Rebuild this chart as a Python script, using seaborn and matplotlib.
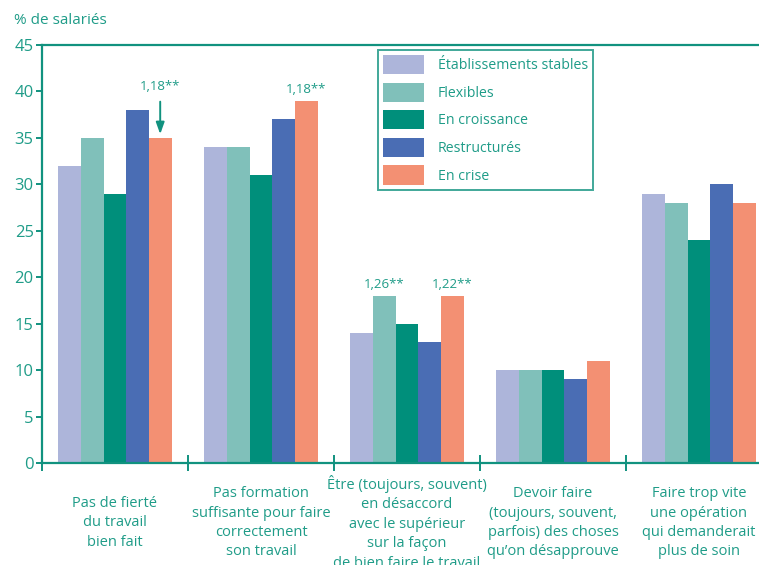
import matplotlib
matplotlib.use("Agg")
import matplotlib.pyplot as plt
import seaborn as sns
import pandas as pd

# data
categories = [
    "Pas de fierté\ndu travail\nbien fait",
    "Pas formation\nsuffisante pour faire\ncorrectement\nson travail",
    "Être (toujours, souvent)\nen désaccord\navec le supérieur\nsur la façon\nde bien faire le travail",
    "Devoir faire\n(toujours, souvent,\nparfois) des choses\nqu’on désapprouve",
    "Faire trop vite\nune opération\nqui demanderait\nplus de soin",
]
series = ["Établissements stables", "Flexibles", "En croissance", "Restructurés", "En crise"]
stables = [32, 34, 14, 10, 29]
flexibles = [35, 34, 18, 10, 28]
croissance = [29, 31, 15, 10, 24]
restructures = [38, 37, 13, 9, 30]
crise = [35, 39, 18, 11, 28]
colors = ["#adb5da", "#80c0ba", "#008f7b", "#4a6db4", "#f39073"]

# odds ratios written above some bars: (category index, series index, label, arrow)
notes = [(0, 4, "1,18**", True), (1, 4, "1,18**", False),
         (2, 1, "1,26**", False), (2, 4, "1,22**", False)]

teal = "#1f9c88"
line = "#11927f"

all_vals = [stables, flexibles, croissance, restructures, crise]
rows = []
for name, vals in zip(series, all_vals):
    for cat, v in zip(categories, vals):
        rows.append({"cat": cat, "serie": name, "val": v})
df = pd.DataFrame(rows)

sns.set_style("white")
plt.rcParams["font.family"] = ["Open Sans", "DejaVu Sans"]

fig = plt.figure(figsize=(7.59, 5.65), dpi=100)
ax = fig.add_axes([42 / 759, 1 - 463 / 565, 1 - 42 / 759, (463 - 45) / 565])

bw = 0.774
sns.barplot(data=df, x="cat", y="val", hue="serie", order=categories, hue_order=series,
            palette=colors, saturation=1, width=bw, gap=0, ax=ax, legend=True,
            linewidth=0, edgecolor="none")

ax.set_yticks(range(0, 46, 5))
ax.set_xlabel("")
ax.set_ylabel("")

for s in ["left", "top", "bottom"]:
    ax.spines[s].set_color(line)
    ax.spines[s].set_linewidth(1.6)
ax.spines["right"].set_visible(False)

ax.tick_params(axis="y", which="major", direction="out", length=4, width=1.4,
               color=line, labelcolor=teal, labelsize=12, pad=2, left=True)
ax.set_xticks(range(len(categories)))
ax.set_xticklabels(categories, fontsize=10.5, color=teal, linespacing=1.4,
                   va="center", ha="center")
ax.tick_params(axis="x", which="major", length=0, pad=43)
ax.set_xticks([i - 0.5 for i in range(len(categories) + 1)], minor=True)
ax.tick_params(axis="x", which="minor", direction="inout", length=12, width=1.4,
               color=line, bottom=True)
# limits after the ticks, since set_xticks widens the view
ax.set_xlim(-0.5, -0.5 + 717 / 146)
ax.set_ylim(0, 45)

step = bw / len(series)
for ci, si, txt, arrow in notes:
    x = ci - bw / 2 + (si + 0.5) * step
    v = all_vals[si][ci]
    if arrow:
        ax.annotate("", xy=(x, v + 0.4), xytext=(x, v + 3.9),
                    arrowprops=dict(arrowstyle="-|>,head_length=0.7,head_width=0.25",
                                    color=line, lw=1.4, shrinkA=0, shrinkB=0))
        ax.text(x, v + 5.5, txt, ha="center", va="center", fontsize=9.5, color=teal)
    else:
        ax.annotate(txt, xy=(x, v), xytext=(0, 8), textcoords="offset points",
                    ha="center", va="center", fontsize=9.5, color=teal)

leg = ax.legend(loc="upper left", frameon=True, fancybox=False,
                fontsize=10.2, handlelength=2.9, handleheight=1.7, handletextpad=0.95,
                labelspacing=0.6, borderpad=0.35, borderaxespad=0)
leg.set_bbox_to_anchor((378 / 759, 1 - 50 / 565), transform=fig.transFigure)
leg.get_frame().set_edgecolor(line)
leg.get_frame().set_linewidth(1.4)
for t in leg.get_texts():
    t.set_color(teal)

fig.text(14 / 759, 1 - 20 / 565, "% de salariés", ha="left", va="center",
         fontsize=11, color=teal)

fig.savefig("out.png", dpi=100)
